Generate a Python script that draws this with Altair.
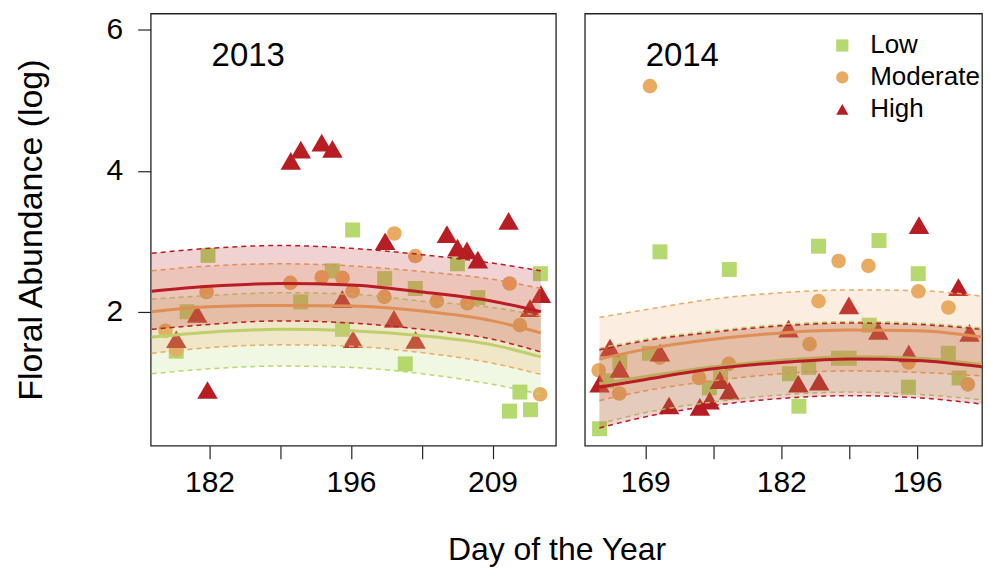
import altair as alt
import pandas as pd

FONT = "Liberation Sans"
GROUPS = ["Low", "Moderate", "High"]
POINT_COLORS = ["#b6d96f", "#e9aa62", "#b81d24"]
SHAPES = ["square", "circle", "triangle-up"]
SIZES = [225, 215, 420]

# ---------------- 2013 ----------------
LOW13_X = [181.85, 179.78, 178.71, 194.14, 191.02, 195.16, 196.16, 199.33, 202.36, 201.37, 206.53, 208.55, 214.74, 212.71, 211.68, 213.76]
LOW13_Y = [2.80, 2.00, 1.44, 2.58, 2.14, 1.75, 3.16, 2.47, 2.33, 1.26, 2.68, 2.20, 2.54, 0.86, 0.59, 0.61]
MOD13_X = [177.64, 178.71, 181.71, 190.00, 193.10, 195.16, 196.16, 200.29, 199.30, 202.36, 204.49, 207.51, 211.69, 212.71, 214.71]
MOD13_Y = [1.73, 1.46, 2.28, 2.41, 2.49, 2.48, 2.29, 3.11, 2.21, 2.79, 2.15, 2.12, 2.40, 1.81, 0.83]
HIGH13_X = [190.04, 191.03, 193.10, 194.16, 180.78, 178.71, 181.80, 195.14, 196.20, 199.38, 200.25, 202.39, 205.49, 206.53, 207.47, 208.55, 211.59, 214.79, 213.71]
HIGH13_Y = [4.14, 4.30, 4.40, 4.31, 1.97, 1.61, 0.89, 2.18, 1.61, 3.00, 1.90, 1.60, 3.10, 2.91, 2.87, 2.74, 3.29, 2.25, 2.05]

FIT13_DAYS = [176.28, 182, 189, 196, 203.03, 210, 214.78]
LOW13_FIT = [1.64, 1.71, 1.75, 1.73, 1.66, 1.53, 1.36]
LOW13_UP = [2.18, 2.23, 2.27, 2.25, 2.15, 2.06, 1.94]
LOW13_LO = [1.12, 1.19, 1.23, 1.21, 1.12, 0.97, 0.83]
MOD13_FIT = [2.00, 2.07, 2.09, 2.08, 2.01, 1.87, 1.70]
MOD13_UP = [2.58, 2.65, 2.68, 2.65, 2.57, 2.46, 2.33]
MOD13_LO = [1.41, 1.49, 1.53, 1.51, 1.42, 1.27, 1.11]
HIGH13_FIT = [2.29, 2.36, 2.40, 2.38, 2.28, 2.15, 2.00]
HIGH13_UP = [2.83, 2.90, 2.94, 2.90, 2.81, 2.69, 2.58]
HIGH13_LO = [1.75, 1.82, 1.87, 1.84, 1.75, 1.61, 1.43]

# ---------------- 2014 ----------------
LOW14_X = [169.51, 176.65, 163.29, 165.37, 168.42, 164.02, 174.60, 175.75, 182.85, 184.83, 187.90, 189.00, 191.06, 195.10, 199.21, 200.32, 185.84, 192.07, 196.11, 183.82]
LOW14_Y = [2.85, 2.60, 0.34, 1.28, 1.41, 1.02, 0.92, 1.07, 1.12, 1.21, 1.34, 1.34, 1.81, 0.93, 1.41, 1.06, 2.93, 3.01, 2.54, 0.66]
MOD14_X = [168.48, 163.20, 165.32, 169.49, 173.54, 176.60, 184.92, 185.84, 187.91, 190.98, 196.13, 199.22, 195.12, 201.22]
MOD14_Y = [5.20, 1.17, 0.84, 1.35, 1.06, 1.26, 1.54, 2.15, 2.72, 2.65, 2.29, 2.06, 1.28, 0.97]
HIGH14_X = [164.36, 165.37, 163.29, 169.51, 170.45, 173.62, 174.63, 175.68, 176.65, 182.75, 183.76, 185.91, 188.97, 192.00, 195.14, 196.19, 200.25, 201.39]
HIGH14_Y = [1.49, 1.19, 0.98, 1.42, 0.67, 0.65, 0.74, 1.03, 0.88, 1.76, 0.98, 1.01, 2.09, 1.73, 1.41, 3.23, 2.35, 1.70]

FIT14_DAYS = [163.27, 168.06, 175.0, 182, 189, 196, 202.7]
LOW14_FIT = [0.98, 1.08, 1.22, 1.31, 1.36, 1.34, 1.25]
LOW14_UP = [1.48, 1.61, 1.73, 1.82, 1.86, 1.84, 1.77]
LOW14_LO = [0.41, 0.57, 0.72, 0.82, 0.86, 0.83, 0.75]
MOD14_FIT = [1.33, 1.47, 1.61, 1.70, 1.74, 1.73, 1.64]
MOD14_UP = [1.92, 2.03, 2.18, 2.27, 2.31, 2.30, 2.22]
MOD14_LO = [0.74, 0.88, 1.02, 1.12, 1.16, 1.14, 1.09]
HIGH14_FIT = [0.93, 1.04, 1.19, 1.28, 1.33, 1.31, 1.22]
HIGH14_UP = [1.46, 1.59, 1.71, 1.80, 1.84, 1.82, 1.75]
HIGH14_LO = [0.35, 0.51, 0.67, 0.77, 0.81, 0.78, 0.69]

# axis ticks / labels
TICKS13 = [182, 189, 196, 203, 210]
TICK_LABELS13 = ["182", "", "196", "", "209"]
TICKS14 = [168, 175, 182, 189, 196]
TICK_LABELS14 = ["169", "", "182", "", "196"]
Y_TICKS = [2, 4, 6]
Y_DOMAIN = [0.10, 6.23]
X_DOMAIN13 = [176.18, 216.27]
X_DOMAIN14 = [161.77, 202.68]

INK = "#222222"


def label_expr(ticks, labels):
    expr = "''"
    for t, l in reversed(list(zip(ticks, labels))):
        expr = f"datum.value == {t} ? '{l}' : ({expr})"
    return expr


LEGEND = alt.Legend(title=None, orient="none", legendX=680, legendY=19,
                    labelFontSize=26, labelFont=FONT, labelColor="black",
                    symbolSize=150, labelOffset=15, rowPadding=6, padding=0,
                    symbolStrokeWidth=0)


def panel(year, pts, fit_days, fits, x_domain, ticks, tick_labels, width, show_y):
    xscale = alt.Scale(domain=x_domain, nice=False, zero=False)
    yscale = alt.Scale(domain=Y_DOMAIN, nice=False, zero=False)
    xaxis = alt.Axis(values=ticks, labelExpr=label_expr(ticks, tick_labels), title=None,
                     tickSize=13, tickColor=INK, tickWidth=1.2, domain=False, grid=False,
                     labelFontSize=30, labelFont=FONT, labelColor="black", labelPadding=9,
                     labelOverlap=False, labelFlush=False)
    if show_y:
        yaxis = alt.Axis(values=Y_TICKS, format="d", title="Floral Abundance (log)", tickSize=13,
                         tickColor=INK, tickWidth=1.2, domain=False, grid=False,
                         labelFontSize=30, labelFont=FONT, labelColor="black", labelPadding=15,
                         titleFontSize=34, titleFont=FONT, titleFontWeight="normal",
                         titleColor="black", titlePadding=58)
    else:
        yaxis = None

    layers = []
    for i, (g, (xs, ys)) in enumerate(zip(GROUPS, pts)):
        pdf = pd.DataFrame({"day": xs, "val": ys, "grp": [g] * len(xs)})
        layers.append(alt.Chart(pdf).mark_point(filled=True, opacity=1, strokeWidth=0,
                                                 size=SIZES[i]).encode(
            x=alt.X("day:Q", scale=xscale, axis=xaxis),
            y=alt.Y("val:Q", scale=yscale, axis=yaxis),
            color=alt.Color("grp:N", scale=alt.Scale(domain=GROUPS, range=POINT_COLORS), legend=LEGEND),
            shape=alt.Shape("grp:N", scale=alt.Scale(domain=GROUPS, range=SHAPES), legend=LEGEND),
        ))

    for g, col, (fit, up, lo) in zip(GROUPS, POINT_COLORS, fits):
        fdf = pd.DataFrame({"day": fit_days, "fit": fit, "up": up, "lo": lo})
        base = alt.Chart(fdf)
        layers.append(base.mark_area(color=col, opacity=0.2, interpolate="monotone", clip=True).encode(
            x=alt.X("day:Q", scale=xscale), y=alt.Y("lo:Q", scale=yscale), y2="up:Q"))
        for fld in ["up", "lo"]:
            layers.append(base.mark_line(color=col, strokeWidth=1.5, strokeDash=[5, 4],
                                         interpolate="monotone", clip=True).encode(
                x=alt.X("day:Q", scale=xscale), y=alt.Y(f"{fld}:Q", scale=yscale)))
        layers.append(base.mark_line(color=col, strokeWidth=3, interpolate="monotone", clip=True).encode(
            x=alt.X("day:Q", scale=xscale), y=alt.Y("fit:Q", scale=yscale)))

    tdf = pd.DataFrame({"t": [str(year)]})
    layers.append(alt.Chart(tdf).mark_text(align="left", baseline="alphabetic", fontSize=33,
                                            font=FONT, color="black").encode(
        text="t:N", x=alt.value(61), y=alt.value(53)))

    return alt.layer(*layers).properties(width=width, height=433)


p13 = panel(2013, [(LOW13_X, LOW13_Y), (MOD13_X, MOD13_Y), (HIGH13_X, HIGH13_Y)], FIT13_DAYS,
            [(LOW13_FIT, LOW13_UP, LOW13_LO), (MOD13_FIT, MOD13_UP, MOD13_LO), (HIGH13_FIT, HIGH13_UP, HIGH13_LO)],
            X_DOMAIN13, TICKS13, TICK_LABELS13, 406, True)
p14 = panel(2014, [(LOW14_X, LOW14_Y), (MOD14_X, MOD14_Y), (HIGH14_X, HIGH14_Y)], FIT14_DAYS,
            [(LOW14_FIT, LOW14_UP, LOW14_LO), (MOD14_FIT, MOD14_UP, MOD14_LO), (HIGH14_FIT, HIGH14_UP, HIGH14_LO)],
            X_DOMAIN14, TICKS14, TICK_LABELS14, 398, False)

chart = alt.hconcat(p13, p14, spacing=27).properties(
    title=alt.TitleParams("Day of the Year", orient="bottom", anchor="middle", fontSize=32,
                          font=FONT, fontWeight="normal", color="black", offset=37, dx=59),
    padding={"left": 5, "top": 4, "right": 0, "bottom": 0},
).configure_view(stroke=INK, strokeWidth=1.3)

chart.save("out.html", embed_options={"renderer": "svg", "actions": False})
